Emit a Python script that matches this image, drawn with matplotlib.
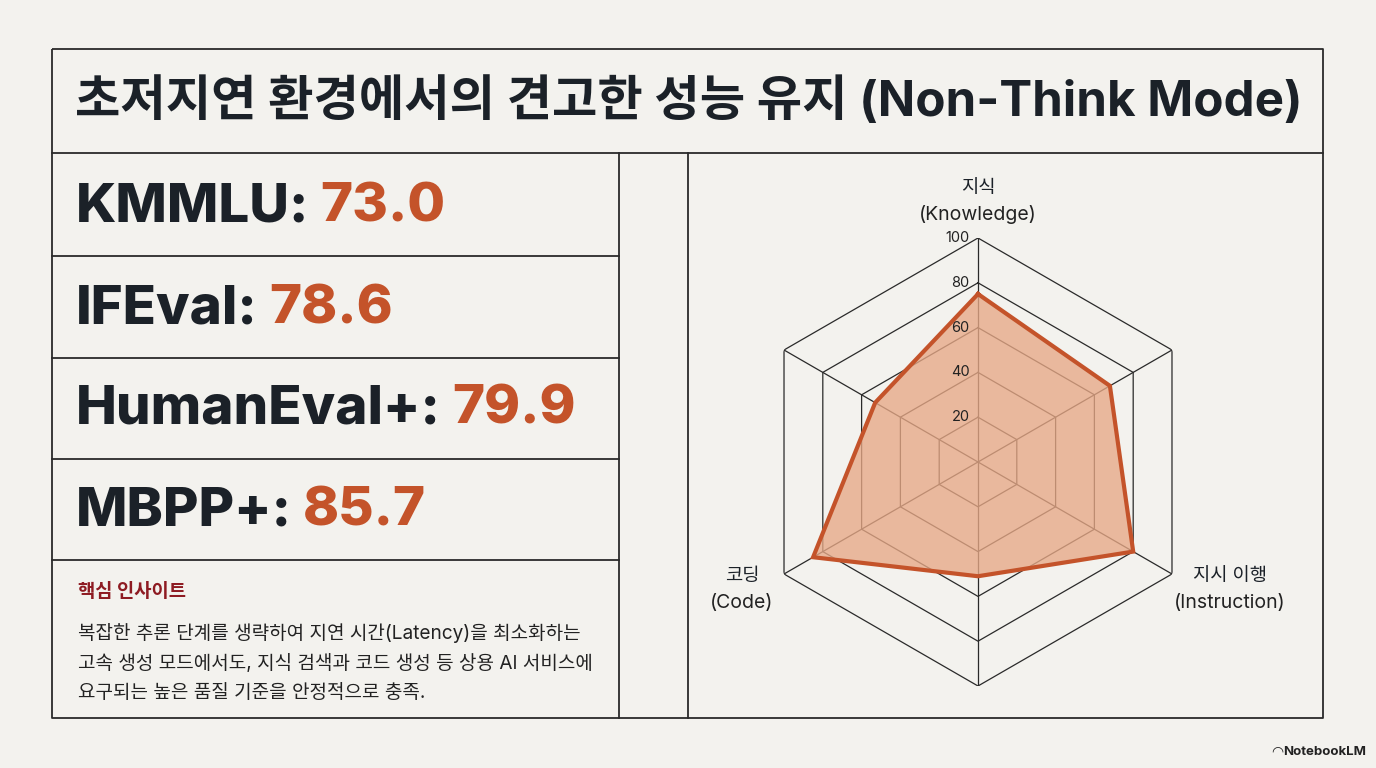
import numpy as np
import matplotlib
matplotlib.use("Agg")
import matplotlib.pyplot as plt

plt.rcParams['font.family'] = ['Inter', 'Noto Sans CJK KR', 'DejaVu Sans']

# ---------------- data ----------------
title = "초저지연 환경에서의 견고한 성능 유지 (Non-Think Mode)"
metric_names = ["KMMLU:", "IFEval:", "HumanEval+:", "MBPP+:"]
metric_values = ["73.0", "78.6", "79.9", "85.7"]
insight_title = "핵심 인사이트"
insight_lines = [
    "복잡한 추론 단계를 생략하여 지연 시간(Latency)을 최소화하는",
    "고속 생성 모드에서도, 지식 검색과 코드 생성 등 상용 AI 서비스에",
    "요구되는 높은 품질 기준을 안정적으로 충족.",
]
# radar: six spokes clockwise from top; only three are labelled
radar_labels = ["지식\n(Knowledge)", "", "지시 이행\n(Instruction)", "", "코딩\n(Code)", ""]
radar_values = [75, 68, 80, 51, 85, 53]
radar_ticks = [20, 40, 60, 80, 100]

# ---------------- style ----------------
BG = "#F3F2EE"
DARK = "#1B2128"
ORANGE = "#C4532A"
FILL = "#E7A886"
LINE = "#2A2A2A"
RED = "#8E1B22"

W, H = 1376, 768
fig = plt.figure(figsize=(W / 100, H / 100), dpi=100, facecolor=BG)
ax = fig.add_axes([0, 0, 1, 1])
ax.set_xlim(0, W)
ax.set_ylim(H, 0)
ax.axis("off")
ax.set_facecolor(BG)

lw = 1.3
# frame
L, R, T, B = 52, 1323, 49, 718
ax.plot([L, R, R, L, L], [T, T, B, B, T], color=LINE, lw=lw, solid_capstyle="butt")
ax.plot([L, R], [153, 153], color=LINE, lw=lw)
ax.plot([619, 619], [153, B], color=LINE, lw=lw)
ax.plot([688, 688], [153, B], color=LINE, lw=lw)
row_lines = [256, 358, 459, 560]
for y in row_lines:
    ax.plot([L, 619], [y, y], color=LINE, lw=lw)

# title
ax.text(75, 102, title, fontsize=35.5, fontweight="bold", color=DARK, va="center", ha="left")

# metric rows
row_centers = [208, 309, 410, 511]
for name, val, yc in zip(metric_names, metric_values, row_centers):
    t1 = ax.text(76, yc, name, fontsize=39.3, fontweight="heavy", color=DARK, va="center", ha="left")
    ax.annotate(val, xy=(1, 0), xycoords=t1, xytext=(8, 0), textcoords="offset points",
                fontsize=39.3, fontweight="heavy", color=ORANGE, va="bottom", ha="left")

# insight
ax.text(78, 592, insight_title, fontsize=13.5, fontweight="bold", color=RED, va="center", ha="left")
for i, line in enumerate(insight_lines):
    ax.text(78, 633 + i * 30, line, fontsize=13.7, color="#222222", va="center", ha="left")

# watermark
ax.text(1366, 752, "NotebookLM", fontsize=9.5, fontweight="bold", color="#222222", va="center", ha="right")
ax.text(1277, 752, "◠", fontsize=10, color="#222222", va="center", ha="center", family="DejaVu Sans")

# ---------------- radar ----------------
cx, cy, rad = 978, 462, 224
pax = fig.add_axes([(cx - rad) / W, (H - cy - rad) / H, 2 * rad / W, 2 * rad / H], projection="polar")
pax.set_theta_zero_location("N")
pax.set_theta_direction(-1)
pax.set_ylim(0, 100)
pax.patch.set_alpha(0)
pax.spines["polar"].set_visible(False)
pax.grid(False)
pax.set_xticks([])
pax.set_yticks([])

n = len(radar_values)
angles = np.linspace(0, 2 * np.pi, n, endpoint=False)
ang_closed = np.append(angles, angles[0])

for r in radar_ticks:
    pax.plot(ang_closed, [r] * (n + 1), color=LINE, lw=0.9, zorder=1)
for a in angles:
    pax.plot([a, a], [0, 100], color=LINE, lw=0.9, zorder=1)

vals = np.append(radar_values, radar_values[0])
pax.fill(ang_closed, vals, color=FILL, alpha=0.78, zorder=2, lw=0)
pax.plot(ang_closed, vals, color=ORANGE, lw=3.0, zorder=3, solid_joinstyle="miter")

for r in radar_ticks:
    pax.annotate(str(r), xy=(0, r), xytext=(-6, 0), textcoords="offset points",
                 ha="right", va="center", fontsize=10.5, color="#222222", zorder=4)

label_pos = {0: (cx, 201), 2: (1230, 590), 4: (742, 590)}
for i, lab in enumerate(radar_labels):
    if not lab:
        continue
    head, sub = lab.split("\n")
    x0, y0 = label_pos[i]
    ax.text(x0, y0 - 13, head, fontsize=13.5, fontweight="medium", color=DARK, ha="center", va="center")
    ax.text(x0, y0 + 13, sub, fontsize=14, color="#222222", ha="center", va="center")

fig.savefig("out.png", dpi=100, facecolor=BG)
